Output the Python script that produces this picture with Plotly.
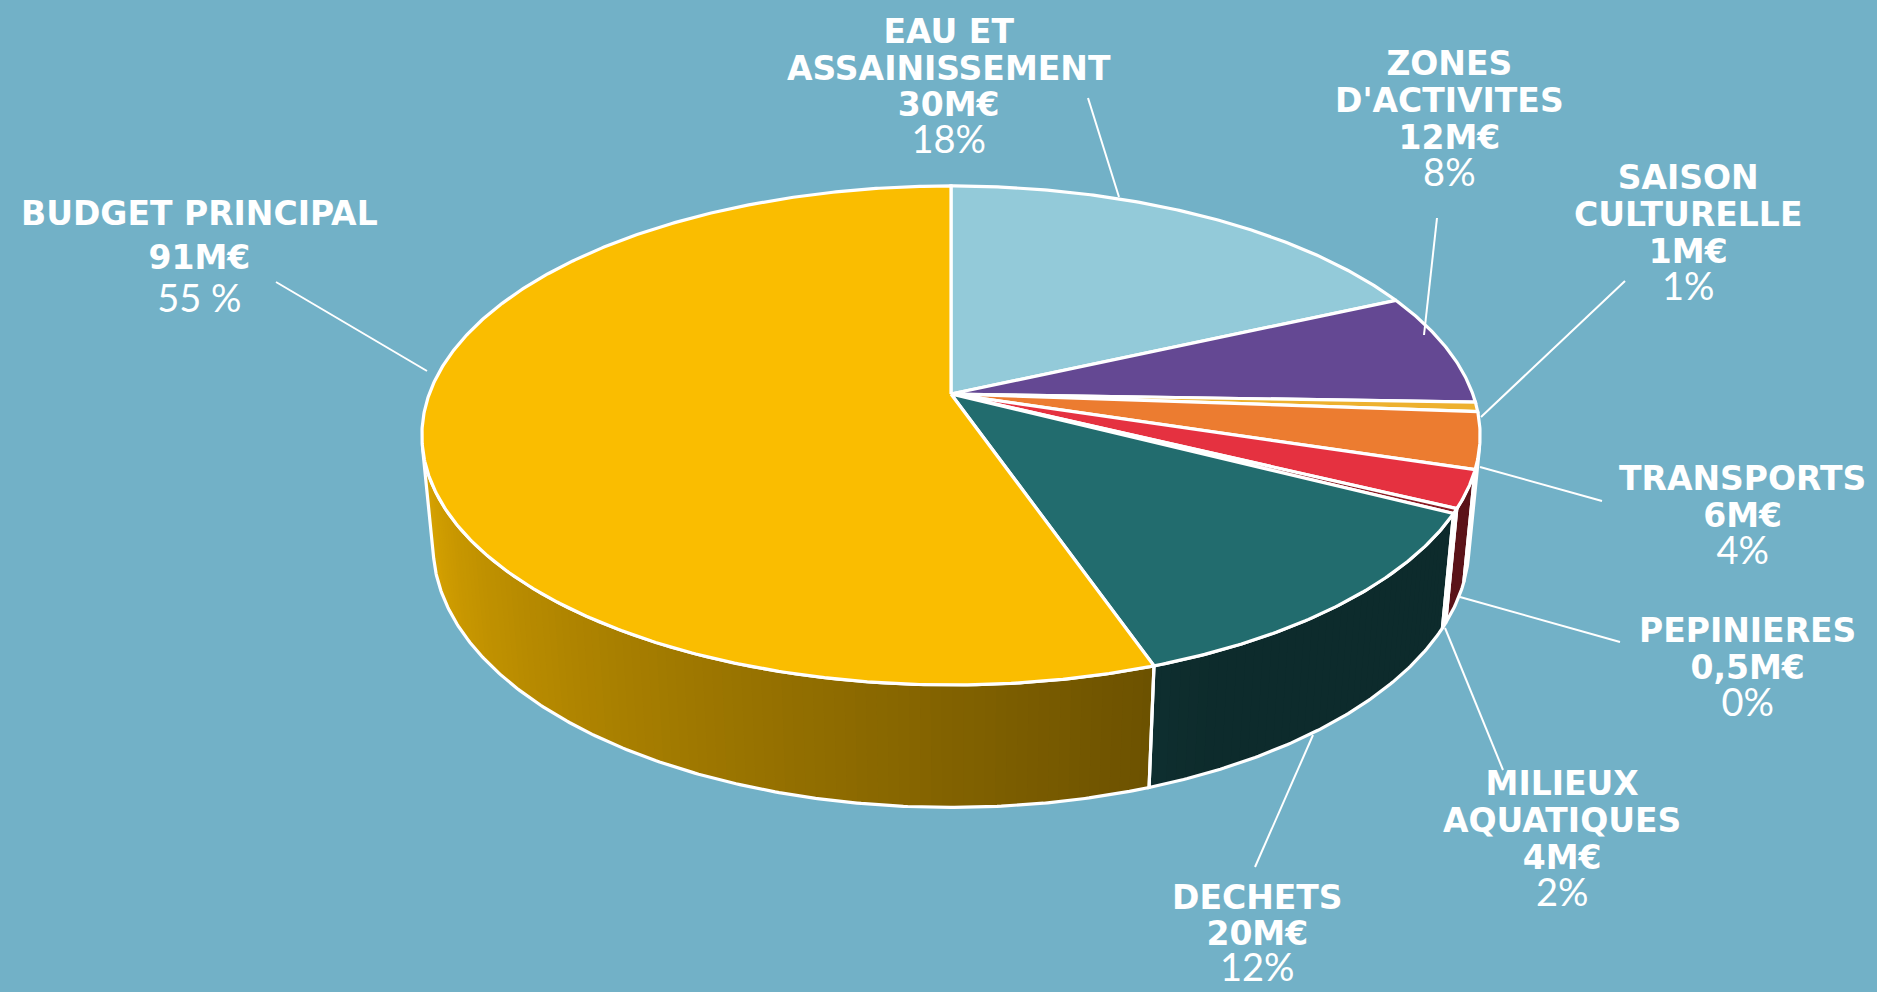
import numpy as np
import plotly.graph_objects as go

# ---------------- data ----------------
categories = ["EAU ET ASSAINISSEMENT", "ZONES D'ACTIVITES", "SAISON CULTURELLE",
              "TRANSPORTS", "MILIEUX AQUATIQUES", "PEPINIERES", "DECHETS",
              "BUDGET PRINCIPAL"]
values = [30, 12, 1, 6, 4, 0.5, 20, 91]
value_labels = ["30M€", "12M€", "1M€", "6M€", "4M€", "0,5M€", "20M€", "91M€"]
pct_labels = ["18%", "8%", "1%", "4%", "2%", "0%", "12%", "55 %"]
name_lines = [["EAU ET", "ASSAINISSEMENT"], ["ZONES", "D'ACTIVITES"],
              ["SAISON", "CULTURELLE"], ["TRANSPORTS"], ["MILIEUX", "AQUATIQUES"],
              ["PEPINIERES"], ["DECHETS"], ["BUDGET PRINCIPAL"]]
colors = ["#93CAD9", "#644893", "#EDB12F", "#EC7C30", "#E53140", "#8A1C24",
          "#226C6E", "#FABD00"]

# ---------------- layout constants ----------------
W, HGT = 1877, 992
BG = "#72B1C7"
CX, CY = 951, 394          # screen position of pie apex
FOC, DIST = 2781, 5.33     # perspective focal / camera distance
SE, CE = 0.465, 0.885      # sin / cos of elevation
THICK = 0.24               # pie thickness (radius = 1)

label_x = [949, 1449, 1688, 1742, 1562, 1747, 1257, 199]
label_yc = [86, 119, 233, 515, 839, 667, 933, 257]
line_gap = [36.5, 37, 37, 37, 37, 37, 36, 43.5]
leaders = [((1088, 98), (1119, 197)), ((1437, 218), (1424, 335)),
           ((1625, 281), (1481, 417)), ((1602, 501), (1480, 467)),
           ((1445, 628), (1503, 770)), ((1620, 642), (1460, 597)),
           ((1313, 735), (1255, 867)), ((276, 282), (427, 371))]

BOLD_STYLE = 'font-family:DejaVu Sans;font-weight:bold;font-size:33px'
PCT_STYLE = 'font-family:Lato;font-weight:400;font-size:38px'


def proj(X, Y, Z):
    d = DIST + Y * CE - Z * SE
    return CX + FOC * X / d, CY - FOC * (Y * SE + Z * CE) / d


def arc(t1, t2, z):
    n = max(2, int(abs(t2 - t1) / 0.4) + 1)
    th = np.radians(np.linspace(t1, t2, n))
    xs, ys = proj(np.cos(th), np.sin(th), z)
    return list(xs), list(ys)


def hex2rgb(h):
    h = h.lstrip("#")
    return [int(h[i:i + 2], 16) for i in (0, 2, 4)]


def shade(col, theta):
    t = theta % 360
    f = float(np.clip(0.88 - (t - 192) / 100 * 0.46, 0.40, 0.88))
    r, g, b = hex2rgb(col)
    return "rgb(%d,%d,%d)" % (r * f, g * f, b * f)


total = float(sum(values))
cum = np.cumsum([0] + values)
starts = 90 - 360 * cum[:-1] / total
ends = 90 - 360 * cum[1:] / total

alpha = np.degrees(np.arcsin(1 / (DIST * CE)))
VIS_LO, VIS_HI = -180 + alpha, -alpha

fig = go.Figure()

# ---- side walls ----
outlines = []
for i, col in enumerate(colors):
    lo = max(ends[i], VIS_LO)
    hi = min(starts[i], VIS_HI)
    if lo >= hi:
        continue
    edges = np.arange(hi, lo, -1.0).tolist() + [lo]
    for a, b in zip(edges[:-1], edges[1:]):
        b2 = max(b - 0.6, lo)
        tx, ty = arc(a, b2, 0)
        bx, by = arc(b2, a, -THICK)
        fig.add_trace(go.Scatter(
            x=tx + bx + [tx[0]], y=ty + by + [ty[0]], mode="lines",
            fill="toself", fillcolor=shade(col, (a + b) / 2),
            line=dict(width=0), hoverinfo="skip", showlegend=False))
    tx, ty = arc(hi, lo, 0)
    bx, by = arc(lo, hi, -THICK)
    outlines.append((tx + bx + [tx[0]], ty + by + [ty[0]]))

for xs, ys in outlines:
    fig.add_trace(go.Scatter(x=xs, y=ys, mode="lines",
                             line=dict(color="white", width=3.2),
                             hoverinfo="skip", showlegend=False))

# ---- top face ----
ax0, ay0 = proj(0, 0, 0)
for i, col in enumerate(colors):
    tx, ty = arc(starts[i], ends[i], 0)
    fig.add_trace(go.Scatter(
        x=[ax0] + tx + [ax0], y=[ay0] + ty + [ay0], mode="lines",
        fill="toself", fillcolor=col, line=dict(color="white", width=3.2),
        name=categories[i], hoverinfo="skip", showlegend=False))

# ---- labels ----
annotations = []
for i in range(len(categories)):
    parts = ['<span style="%s">%s</span>' % (BOLD_STYLE, t)
             for t in name_lines[i] + [value_labels[i]]]
    parts.append('<span style="%s">%s</span>' % (PCT_STYLE, pct_labels[i]))
    annotations.append(dict(
        x=label_x[i], y=label_yc[i], xref="x", yref="y", text="<br>".join(parts),
        showarrow=False, xanchor="center", yanchor="middle", align="center",
        font=dict(family="DejaVu Sans", size=line_gap[i] / 1.3, color="white"),
        borderpad=0))

shapes = [dict(type="line", xref="x", yref="y", x0=p[0], y0=p[1], x1=q[0], y1=q[1],
               line=dict(color="white", width=2)) for p, q in leaders]

fig.update_layout(
    width=W, height=HGT, margin=dict(l=0, r=0, t=0, b=0),
    paper_bgcolor=BG, plot_bgcolor=BG, showlegend=False, hovermode=False,
    xaxis=dict(range=[0, W], visible=False, fixedrange=True),
    yaxis=dict(range=[HGT, 0], visible=False, fixedrange=True),
    annotations=annotations, shapes=shapes)

fig.write_html("out.html", config={"displayModeBar": False},
               post_script="document.body.style.margin='0';document.body.style.overflow='hidden';")
